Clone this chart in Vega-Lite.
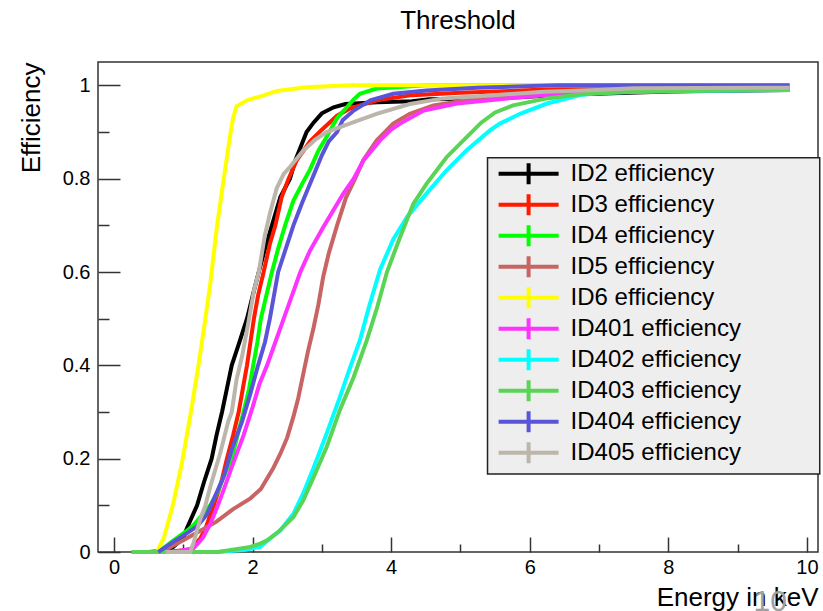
{
  "$schema": "https://vega.github.io/schema/vega-lite/v6.json",
  "width": 720,
  "height": 490,
  "autosize": {"type": "none"},
  "padding": {"left": 98, "top": 62, "right": 5, "bottom": 59},
  "background": "white",
  "title": {"text": "Threshold", "font": "Liberation Sans", "fontSize": 26, "fontWeight": "normal", "color": "#000000", "anchor": "middle", "offset": 28},
  "config": {
    "font": "Liberation Sans",
    "view": {"stroke": "#333333", "strokeWidth": 1.5}
  },
  "data": {"values": [
    {"id":"ID2 efficiency","e":0.65,"eff":0},{"id":"ID2 efficiency","e":0.85,"eff":0.01},{"id":"ID2 efficiency","e":1.0,"eff":0.03},{"id":"ID2 efficiency","e":1.05,"eff":0.05},{"id":"ID2 efficiency","e":1.2,"eff":0.1},{"id":"ID2 efficiency","e":1.3,"eff":0.15},{"id":"ID2 efficiency","e":1.41,"eff":0.2},{"id":"ID2 efficiency","e":1.48,"eff":0.25},{"id":"ID2 efficiency","e":1.56,"eff":0.3},{"id":"ID2 efficiency","e":1.63,"eff":0.35},{"id":"ID2 efficiency","e":1.7,"eff":0.4},{"id":"ID2 efficiency","e":1.8,"eff":0.445},{"id":"ID2 efficiency","e":1.92,"eff":0.5},{"id":"ID2 efficiency","e":2.02,"eff":0.56},{"id":"ID2 efficiency","e":2.09,"eff":0.6},{"id":"ID2 efficiency","e":2.18,"eff":0.65},{"id":"ID2 efficiency","e":2.28,"eff":0.7},{"id":"ID2 efficiency","e":2.4,"eff":0.76},{"id":"ID2 efficiency","e":2.54,"eff":0.8},{"id":"ID2 efficiency","e":2.62,"eff":0.84},{"id":"ID2 efficiency","e":2.7,"eff":0.87},{"id":"ID2 efficiency","e":2.78,"eff":0.9},{"id":"ID2 efficiency","e":2.88,"eff":0.92},{"id":"ID2 efficiency","e":3.0,"eff":0.94},{"id":"ID2 efficiency","e":3.17,"eff":0.953},{"id":"ID2 efficiency","e":3.34,"eff":0.96},{"id":"ID2 efficiency","e":3.8,"eff":0.964},{"id":"ID2 efficiency","e":4.3,"eff":0.966},{"id":"ID2 efficiency","e":4.55,"eff":0.97},{"id":"ID2 efficiency","e":5.5,"eff":0.972},{"id":"ID2 efficiency","e":6.5,"eff":0.98},{"id":"ID2 efficiency","e":8.0,"eff":0.987},{"id":"ID2 efficiency","e":9.75,"eff":0.99},
    {"id":"ID3 efficiency","e":0.75,"eff":0},{"id":"ID3 efficiency","e":1.1,"eff":0.005},{"id":"ID3 efficiency","e":1.25,"eff":0.03},{"id":"ID3 efficiency","e":1.32,"eff":0.05},{"id":"ID3 efficiency","e":1.44,"eff":0.1},{"id":"ID3 efficiency","e":1.55,"eff":0.15},{"id":"ID3 efficiency","e":1.63,"eff":0.2},{"id":"ID3 efficiency","e":1.72,"eff":0.25},{"id":"ID3 efficiency","e":1.8,"eff":0.3},{"id":"ID3 efficiency","e":1.86,"eff":0.35},{"id":"ID3 efficiency","e":1.92,"eff":0.4},{"id":"ID3 efficiency","e":1.97,"eff":0.45},{"id":"ID3 efficiency","e":2.02,"eff":0.5},{"id":"ID3 efficiency","e":2.08,"eff":0.55},{"id":"ID3 efficiency","e":2.16,"eff":0.6},{"id":"ID3 efficiency","e":2.25,"eff":0.66},{"id":"ID3 efficiency","e":2.33,"eff":0.7},{"id":"ID3 efficiency","e":2.42,"eff":0.76},{"id":"ID3 efficiency","e":2.52,"eff":0.8},{"id":"ID3 efficiency","e":2.64,"eff":0.84},{"id":"ID3 efficiency","e":2.83,"eff":0.88},{"id":"ID3 efficiency","e":3.0,"eff":0.905},{"id":"ID3 efficiency","e":3.22,"eff":0.935},{"id":"ID3 efficiency","e":3.4,"eff":0.95},{"id":"ID3 efficiency","e":3.8,"eff":0.968},{"id":"ID3 efficiency","e":4.3,"eff":0.979},{"id":"ID3 efficiency","e":5.0,"eff":0.984},{"id":"ID3 efficiency","e":6.6,"eff":0.993},{"id":"ID3 efficiency","e":9.75,"eff":0.996},
    {"id":"ID4 efficiency","e":0.64,"eff":0},{"id":"ID4 efficiency","e":0.86,"eff":0.025},{"id":"ID4 efficiency","e":1.05,"eff":0.045},{"id":"ID4 efficiency","e":1.15,"eff":0.058},{"id":"ID4 efficiency","e":1.39,"eff":0.1},{"id":"ID4 efficiency","e":1.5,"eff":0.13},{"id":"ID4 efficiency","e":1.58,"eff":0.16},{"id":"ID4 efficiency","e":1.7,"eff":0.2},{"id":"ID4 efficiency","e":1.8,"eff":0.26},{"id":"ID4 efficiency","e":1.87,"eff":0.3},{"id":"ID4 efficiency","e":1.95,"eff":0.35},{"id":"ID4 efficiency","e":2.01,"eff":0.4},{"id":"ID4 efficiency","e":2.07,"eff":0.45},{"id":"ID4 efficiency","e":2.12,"eff":0.5},{"id":"ID4 efficiency","e":2.2,"eff":0.55},{"id":"ID4 efficiency","e":2.28,"eff":0.6},{"id":"ID4 efficiency","e":2.37,"eff":0.65},{"id":"ID4 efficiency","e":2.47,"eff":0.7},{"id":"ID4 efficiency","e":2.59,"eff":0.753},{"id":"ID4 efficiency","e":2.72,"eff":0.79},{"id":"ID4 efficiency","e":2.83,"eff":0.82},{"id":"ID4 efficiency","e":2.95,"eff":0.86},{"id":"ID4 efficiency","e":3.07,"eff":0.89},{"id":"ID4 efficiency","e":3.22,"eff":0.93},{"id":"ID4 efficiency","e":3.36,"eff":0.953},{"id":"ID4 efficiency","e":3.46,"eff":0.97},{"id":"ID4 efficiency","e":3.55,"eff":0.982},{"id":"ID4 efficiency","e":3.79,"eff":0.993},{"id":"ID4 efficiency","e":4.08,"eff":0.996},{"id":"ID4 efficiency","e":4.5,"eff":1.0},{"id":"ID4 efficiency","e":9.75,"eff":1.0},
    {"id":"ID5 efficiency","e":0.5,"eff":0},{"id":"ID5 efficiency","e":0.75,"eff":0.005},{"id":"ID5 efficiency","e":1.0,"eff":0.025},{"id":"ID5 efficiency","e":1.24,"eff":0.045},{"id":"ID5 efficiency","e":1.48,"eff":0.065},{"id":"ID5 efficiency","e":1.72,"eff":0.092},{"id":"ID5 efficiency","e":1.97,"eff":0.115},{"id":"ID5 efficiency","e":2.12,"eff":0.135},{"id":"ID5 efficiency","e":2.3,"eff":0.18},{"id":"ID5 efficiency","e":2.4,"eff":0.21},{"id":"ID5 efficiency","e":2.5,"eff":0.245},{"id":"ID5 efficiency","e":2.59,"eff":0.29},{"id":"ID5 efficiency","e":2.66,"eff":0.33},{"id":"ID5 efficiency","e":2.73,"eff":0.38},{"id":"ID5 efficiency","e":2.8,"eff":0.43},{"id":"ID5 efficiency","e":2.88,"eff":0.48},{"id":"ID5 efficiency","e":2.95,"eff":0.53},{"id":"ID5 efficiency","e":3.02,"eff":0.59},{"id":"ID5 efficiency","e":3.1,"eff":0.64},{"id":"ID5 efficiency","e":3.22,"eff":0.7},{"id":"ID5 efficiency","e":3.35,"eff":0.76},{"id":"ID5 efficiency","e":3.48,"eff":0.8},{"id":"ID5 efficiency","e":3.6,"eff":0.84},{"id":"ID5 efficiency","e":3.79,"eff":0.882},{"id":"ID5 efficiency","e":4.03,"eff":0.918},{"id":"ID5 efficiency","e":4.27,"eff":0.939},{"id":"ID5 efficiency","e":4.61,"eff":0.957},{"id":"ID5 efficiency","e":5.09,"eff":0.968},{"id":"ID5 efficiency","e":5.57,"eff":0.974},{"id":"ID5 efficiency","e":6.5,"eff":0.982},{"id":"ID5 efficiency","e":8.0,"eff":0.988},{"id":"ID5 efficiency","e":9.75,"eff":0.99},
    {"id":"ID6 efficiency","e":0.62,"eff":0},{"id":"ID6 efficiency","e":0.72,"eff":0.03},{"id":"ID6 efficiency","e":0.85,"eff":0.1},{"id":"ID6 efficiency","e":0.98,"eff":0.19},{"id":"ID6 efficiency","e":1.1,"eff":0.29},{"id":"ID6 efficiency","e":1.22,"eff":0.4},{"id":"ID6 efficiency","e":1.3,"eff":0.48},{"id":"ID6 efficiency","e":1.39,"eff":0.575},{"id":"ID6 efficiency","e":1.48,"eff":0.69},{"id":"ID6 efficiency","e":1.58,"eff":0.795},{"id":"ID6 efficiency","e":1.68,"eff":0.895},{"id":"ID6 efficiency","e":1.72,"eff":0.93},{"id":"ID6 efficiency","e":1.77,"eff":0.955},{"id":"ID6 efficiency","e":1.92,"eff":0.968},{"id":"ID6 efficiency","e":2.15,"eff":0.978},{"id":"ID6 efficiency","e":2.35,"eff":0.988},{"id":"ID6 efficiency","e":2.78,"eff":0.996},{"id":"ID6 efficiency","e":3.4,"eff":1.0},{"id":"ID6 efficiency","e":9.75,"eff":1.0},
    {"id":"ID401 efficiency","e":0.85,"eff":0},{"id":"ID401 efficiency","e":1.15,"eff":0.008},{"id":"ID401 efficiency","e":1.28,"eff":0.03},{"id":"ID401 efficiency","e":1.39,"eff":0.06},{"id":"ID401 efficiency","e":1.5,"eff":0.1},{"id":"ID401 efficiency","e":1.6,"eff":0.14},{"id":"ID401 efficiency","e":1.72,"eff":0.19},{"id":"ID401 efficiency","e":1.87,"eff":0.25},{"id":"ID401 efficiency","e":2.0,"eff":0.31},{"id":"ID401 efficiency","e":2.1,"eff":0.36},{"id":"ID401 efficiency","e":2.21,"eff":0.4},{"id":"ID401 efficiency","e":2.33,"eff":0.45},{"id":"ID401 efficiency","e":2.45,"eff":0.5},{"id":"ID401 efficiency","e":2.57,"eff":0.55},{"id":"ID401 efficiency","e":2.69,"eff":0.6},{"id":"ID401 efficiency","e":2.83,"eff":0.646},{"id":"ID401 efficiency","e":3.02,"eff":0.696},{"id":"ID401 efficiency","e":3.31,"eff":0.768},{"id":"ID401 efficiency","e":3.46,"eff":0.8},{"id":"ID401 efficiency","e":3.6,"eff":0.839},{"id":"ID401 efficiency","e":3.84,"eff":0.882},{"id":"ID401 efficiency","e":4.0,"eff":0.905},{"id":"ID401 efficiency","e":4.13,"eff":0.918},{"id":"ID401 efficiency","e":4.47,"eff":0.946},{"id":"ID401 efficiency","e":4.95,"eff":0.961},{"id":"ID401 efficiency","e":5.67,"eff":0.972},{"id":"ID401 efficiency","e":6.48,"eff":0.982},{"id":"ID401 efficiency","e":6.97,"eff":0.986},{"id":"ID401 efficiency","e":8.0,"eff":0.989},{"id":"ID401 efficiency","e":9.75,"eff":0.991},
    {"id":"ID402 efficiency","e":0.75,"eff":0},{"id":"ID402 efficiency","e":1.5,"eff":0},{"id":"ID402 efficiency","e":1.9,"eff":0.005},{"id":"ID402 efficiency","e":2.11,"eff":0.011},{"id":"ID402 efficiency","e":2.3,"eff":0.035},{"id":"ID402 efficiency","e":2.4,"eff":0.046},{"id":"ID402 efficiency","e":2.59,"eff":0.082},{"id":"ID402 efficiency","e":2.73,"eff":0.125},{"id":"ID402 efficiency","e":2.88,"eff":0.18},{"id":"ID402 efficiency","e":3.07,"eff":0.254},{"id":"ID402 efficiency","e":3.26,"eff":0.332},{"id":"ID402 efficiency","e":3.41,"eff":0.396},{"id":"ID402 efficiency","e":3.55,"eff":0.454},{"id":"ID402 efficiency","e":3.68,"eff":0.525},{"id":"ID402 efficiency","e":3.84,"eff":0.605},{"id":"ID402 efficiency","e":4.03,"eff":0.67},{"id":"ID402 efficiency","e":4.23,"eff":0.718},{"id":"ID402 efficiency","e":4.51,"eff":0.768},{"id":"ID402 efficiency","e":4.8,"eff":0.818},{"id":"ID402 efficiency","e":5.09,"eff":0.861},{"id":"ID402 efficiency","e":5.43,"eff":0.904},{"id":"ID402 efficiency","e":5.57,"eff":0.918},{"id":"ID402 efficiency","e":5.86,"eff":0.939},{"id":"ID402 efficiency","e":6.25,"eff":0.961},{"id":"ID402 efficiency","e":6.73,"eff":0.979},{"id":"ID402 efficiency","e":7.02,"eff":0.984},{"id":"ID402 efficiency","e":8.0,"eff":0.988},{"id":"ID402 efficiency","e":9.75,"eff":0.99},
    {"id":"ID403 efficiency","e":0.25,"eff":0},{"id":"ID403 efficiency","e":1.5,"eff":0},{"id":"ID403 efficiency","e":1.97,"eff":0.011},{"id":"ID403 efficiency","e":2.11,"eff":0.018},{"id":"ID403 efficiency","e":2.21,"eff":0.025},{"id":"ID403 efficiency","e":2.35,"eff":0.04},{"id":"ID403 efficiency","e":2.59,"eff":0.075},{"id":"ID403 efficiency","e":2.73,"eff":0.11},{"id":"ID403 efficiency","e":2.88,"eff":0.16},{"id":"ID403 efficiency","e":3.07,"eff":0.225},{"id":"ID403 efficiency","e":3.26,"eff":0.304},{"id":"ID403 efficiency","e":3.46,"eff":0.375},{"id":"ID403 efficiency","e":3.65,"eff":0.454},{"id":"ID403 efficiency","e":3.8,"eff":0.525},{"id":"ID403 efficiency","e":3.94,"eff":0.6},{"id":"ID403 efficiency","e":4.13,"eff":0.675},{"id":"ID403 efficiency","e":4.32,"eff":0.746},{"id":"ID403 efficiency","e":4.51,"eff":0.789},{"id":"ID403 efficiency","e":4.8,"eff":0.846},{"id":"ID403 efficiency","e":5.09,"eff":0.889},{"id":"ID403 efficiency","e":5.3,"eff":0.92},{"id":"ID403 efficiency","e":5.5,"eff":0.942},{"id":"ID403 efficiency","e":5.76,"eff":0.957},{"id":"ID403 efficiency","e":6.25,"eff":0.972},{"id":"ID403 efficiency","e":6.73,"eff":0.981},{"id":"ID403 efficiency","e":7.45,"eff":0.986},{"id":"ID403 efficiency","e":8.17,"eff":0.988},{"id":"ID403 efficiency","e":9.75,"eff":0.991},
    {"id":"ID404 efficiency","e":0.64,"eff":0},{"id":"ID404 efficiency","e":0.84,"eff":0.02},{"id":"ID404 efficiency","e":1.05,"eff":0.04},{"id":"ID404 efficiency","e":1.2,"eff":0.055},{"id":"ID404 efficiency","e":1.34,"eff":0.08},{"id":"ID404 efficiency","e":1.46,"eff":0.12},{"id":"ID404 efficiency","e":1.58,"eff":0.16},{"id":"ID404 efficiency","e":1.7,"eff":0.22},{"id":"ID404 efficiency","e":1.85,"eff":0.28},{"id":"ID404 efficiency","e":1.97,"eff":0.34},{"id":"ID404 efficiency","e":2.08,"eff":0.4},{"id":"ID404 efficiency","e":2.18,"eff":0.45},{"id":"ID404 efficiency","e":2.25,"eff":0.5},{"id":"ID404 efficiency","e":2.37,"eff":0.6},{"id":"ID404 efficiency","e":2.48,"eff":0.65},{"id":"ID404 efficiency","e":2.59,"eff":0.7},{"id":"ID404 efficiency","e":2.72,"eff":0.75},{"id":"ID404 efficiency","e":2.86,"eff":0.8},{"id":"ID404 efficiency","e":3.0,"eff":0.85},{"id":"ID404 efficiency","e":3.1,"eff":0.88},{"id":"ID404 efficiency","e":3.22,"eff":0.9},{"id":"ID404 efficiency","e":3.3,"eff":0.925},{"id":"ID404 efficiency","e":3.46,"eff":0.946},{"id":"ID404 efficiency","e":3.7,"eff":0.968},{"id":"ID404 efficiency","e":4.03,"eff":0.982},{"id":"ID404 efficiency","e":4.51,"eff":0.989},{"id":"ID404 efficiency","e":5.24,"eff":0.995},{"id":"ID404 efficiency","e":6.4,"eff":1.0},{"id":"ID404 efficiency","e":9.75,"eff":1.0},
    {"id":"ID405 efficiency","e":0.75,"eff":0},{"id":"ID405 efficiency","e":1.1,"eff":0},{"id":"ID405 efficiency","e":1.15,"eff":0.02},{"id":"ID405 efficiency","e":1.24,"eff":0.068},{"id":"ID405 efficiency","e":1.32,"eff":0.1},{"id":"ID405 efficiency","e":1.39,"eff":0.14},{"id":"ID405 efficiency","e":1.53,"eff":0.21},{"id":"ID405 efficiency","e":1.65,"eff":0.28},{"id":"ID405 efficiency","e":1.7,"eff":0.3},{"id":"ID405 efficiency","e":1.77,"eff":0.37},{"id":"ID405 efficiency","e":1.85,"eff":0.42},{"id":"ID405 efficiency","e":1.95,"eff":0.5},{"id":"ID405 efficiency","e":2.02,"eff":0.56},{"id":"ID405 efficiency","e":2.09,"eff":0.6},{"id":"ID405 efficiency","e":2.18,"eff":0.68},{"id":"ID405 efficiency","e":2.25,"eff":0.725},{"id":"ID405 efficiency","e":2.35,"eff":0.78},{"id":"ID405 efficiency","e":2.45,"eff":0.81},{"id":"ID405 efficiency","e":2.54,"eff":0.825},{"id":"ID405 efficiency","e":2.73,"eff":0.86},{"id":"ID405 efficiency","e":2.9,"eff":0.883},{"id":"ID405 efficiency","e":3.07,"eff":0.9},{"id":"ID405 efficiency","e":3.46,"eff":0.921},{"id":"ID405 efficiency","e":3.79,"eff":0.939},{"id":"ID405 efficiency","e":4.27,"eff":0.96},{"id":"ID405 efficiency","e":4.75,"eff":0.972},{"id":"ID405 efficiency","e":5.48,"eff":0.979},{"id":"ID405 efficiency","e":6.2,"eff":0.986},{"id":"ID405 efficiency","e":6.97,"eff":0.99},{"id":"ID405 efficiency","e":7.5,"eff":0.994},{"id":"ID405 efficiency","e":9.75,"eff":0.995}
  ]},
  "layer": [
    {
      "mark": {"type": "line", "strokeWidth": 4, "strokeCap": "butt", "strokeJoin": "miter"},
      "encoding": {
        "x": {
          "field": "e", "type": "quantitative",
          "scale": {"domain": [-0.23, 10.16], "nice": false, "zero": false},
          "axis": {
            "values": [0,0.5,1,1.5,2,2.5,3,3.5,4,4.5,5,5.5,6,6.5,7,7.5,8,8.5,9,9.5,10],
            "title": "Energy in keV", "titleAnchor": "end", "titleFont": "Liberation Sans", "titleFontSize": 26, "titleFontWeight": "normal", "titleColor": "#000000", "titlePadding": 0,
            "labelFont": "Liberation Sans", "labelFontSize": 20, "labelColor": "#000000", "labelPadding": 20, "labelOverlap": false, "labelFlush": false, "labelBound": false,
            "labelExpr": "round(datum.value*2) % 4 == 0 ? format(datum.value, '~g') : ''",
            "tickSize": {"condition": {"test": "round(datum.value*2) % 4 == 0", "value": -15}, "value": -8},
            "tickColor": "#333333", "tickWidth": 1.5, "domain": false, "grid": false
          }
        },
        "y": {
          "field": "eff", "type": "quantitative",
          "scale": {"domain": [0, 1.05], "nice": false, "zero": false},
          "axis": {
            "values": [0,0.05,0.1,0.15,0.2,0.25,0.3,0.35,0.4,0.45,0.5,0.55,0.6,0.65,0.7,0.75,0.8,0.85,0.9,0.95,1],
            "title": "Efficiency", "titleAnchor": "end", "titleFont": "Liberation Sans", "titleFontSize": 26, "titleFontWeight": "normal", "titleColor": "#000000", "titlePadding": 18,
            "labelFont": "Liberation Sans", "labelFontSize": 20, "labelColor": "#000000", "labelPadding": 30, "labelOverlap": false, "labelFlush": false, "labelBound": false,
            "labelExpr": "round(datum.value*20) % 4 == 0 ? format(datum.value, '~g') : ''",
            "tickSize": {"condition": {"test": "round(datum.value*20) % 4 == 0", "value": -22}, "value": -11},
            "tickColor": "#333333", "tickWidth": 1.5, "domain": false, "grid": false
          }
        },
        "color": {
          "field": "id", "type": "nominal",
          "scale": {
            "domain": ["ID2 efficiency","ID3 efficiency","ID4 efficiency","ID5 efficiency","ID6 efficiency","ID401 efficiency","ID402 efficiency","ID403 efficiency","ID404 efficiency","ID405 efficiency"],
            "range": ["#000000","#ff1a00","#00ff00","#c86464","#ffff00","#ff33ff","#00ffff","#59d454","#5954d8","#bcb5ab"]
          },
          "legend": {
            "title": null, "orient": "none", "legendX": 389, "legendY": 96.2,
            "padding": 0, "clipHeight": 30.9,
            "symbolType": "M-2.5,0H2.5M0,-0.875V0.875", "symbolSize": 576, "symbolStrokeWidth": 4,
            "symbolOffset": 27.6, "labelOffset": 28, "rowPadding": 0,
            "labelFont": "Liberation Sans", "labelFontSize": 24, "labelColor": "#000000", "labelLimit": 500
          }
        }
      }
    },
    {
      "data": {"values": [{}]},
      "mark": {"type": "rect", "fill": "#eeeeee", "stroke": "#222222", "strokeWidth": 1.5, "clip": false},
      "encoding": {
        "x": {"datum": 5.391},
        "x2": {"datum": 10.185},
        "y": {"datum": 0.845},
        "y2": {"datum": 0.167}
      }
    },
    {
      "data": {"values": [{}]},
      "mark": {"type": "text", "font": "Liberation Sans", "fontSize": 30, "color": "#a0a0a0", "baseline": "middle", "align": "center", "clip": false},
      "encoding": {
        "x": {"datum": 9.47},
        "y": {"datum": -0.108},
        "text": {"value": "10"}
      }
    }
  ]
}
